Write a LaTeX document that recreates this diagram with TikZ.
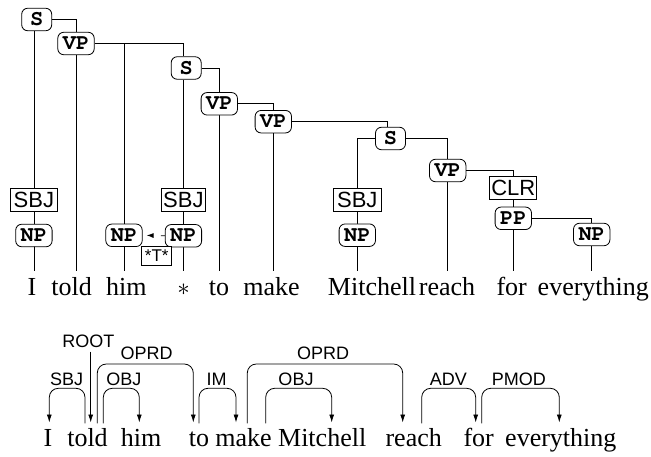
\documentclass[tikz,border=0pt]{standalone}
\usepackage{fontspec}
\setmainfont{Liberation Serif}
\setsansfont{Liberation Sans}
\setmonofont{Liberation Mono}
\usetikzlibrary{arrows.meta}
\pgfdeclarelayer{background}
\pgfsetlayers{background,main}
\newcommand{\catfont}{\fontencoding{T1}\fontfamily{pcr}\fontseries{b}\fontsize{22}{22}\selectfont}
\tikzset{
  cat/.style={draw, line width=0.8pt, rounded corners=6pt, fill=white,
    font=\catfont,
    minimum width=30pt, minimum height=22.5pt, inner xsep=5pt, inner ysep=0pt},
  fn/.style={draw, line width=0.8pt, fill=white,
    font=\sffamily\fontsize{22}{22}\selectfont,
    minimum height=23.5pt, inner xsep=3.8pt, inner ysep=0pt},
  trace/.style={draw, line width=0.8pt, fill=white,
    font=\sffamily\fontsize{17}{17}\selectfont,
    minimum height=18.5pt, minimum width=30pt, inner xsep=1pt, inner ysep=0pt},
  word/.style={font=\fontsize{26}{26}\selectfont, anchor=base, inner sep=0pt},
  dlab/.style={font=\sffamily\fontsize{18}{18}\selectfont, inner sep=0pt},
  tl/.style={line width=0.8pt},
  arc/.style={line width=0.8pt, rounded corners=9pt},
  arcarrow/.style={arc, -{Latex[length=8pt,width=5pt]}},
}
\begin{document}
\begin{tikzpicture}[x=1pt,y=-1pt]
\useasboundingbox (0,0) rectangle (651,457);
% ---------- top tree ----------
\node[cat] (S1) at (36.7,19.5) {S};
\node[cat] (VP1) at (76,43.5) {VP};
\node[cat] (S2) at (186.2,68) {S};
\node[cat] (VP2) at (219.3,103.8) {VP};
\node[cat] (VP3) at (273.3,121.7) {VP};
\node[cat] (S3) at (390.5,138.5) {S};
\node[cat] (VP4) at (447.7,170.5) {VP};
\node[fn, inner xsep=1.5pt] (CLR) at (513.3,188) {CLR};
\node[cat] (PP) at (513.3,218.3) {PP};
\node[cat] (NPe) at (591.7,234.5) {NP};
\node[fn] (SBJ1) at (33.9,199.7) {SBJ};
\node[cat] (NP1) at (33.9,235.5) {NP};
\node[cat] (NPh) at (124,235.3) {NP};
\node[fn, inner xsep=1.5pt] (SBJ2) at (183.4,200) {SBJ};
\node[cat] (NP2) at (183.4,235.8) {NP};
\node[fn] (SBJ3) at (357.3,199.7) {SBJ};
\node[cat] (NP3) at (357.3,235.2) {NP};
\node[trace] (T) at (156.7,256) {*T*};

% leaf words
\node[word] (wI) at (32,295.7) {I};
\node[word] (wtold) at (71.7,295.7) {told};
\node[word] (whim) at (126.3,295.7) {him};
\node[word] (wstar) at (183.5,295.7) {$\ast$};
\node[word] (wto) at (219,295.7) {to};
\node[word] (wmake) at (271.5,295.7) {make};
\node[word] (wMit) at (372,295.7) {Mitchell};
\node[word] (wreach) at (447,295.7) {reach};
\node[word] (wfor) at (511.7,295.7) {for};
\node[word] (wev) at (593.3,295.7) {everything};

\coordinate (lI) at (33.9,270.7);
\coordinate (ltold) at (76,270.7);
\coordinate (lhim) at (124,270.7);
\coordinate (lstar) at (183.4,270.7);
\coordinate (lto) at (219.3,270.7);
\coordinate (lmake) at (273.3,270.7);
\coordinate (lMit) at (357.3,270.7);
\coordinate (lreach) at (447.7,270.7);
\coordinate (lfor) at (513.3,270.7);
\coordinate (lev) at (591.7,270.7);

\begin{pgfonlayer}{background}
\draw[tl] ([xshift=-2.8pt]S1.south) -- (lI);
\draw[tl] (S1.east) -| (VP1.north);
\draw[tl] (VP1.south) -- (ltold);
\draw[tl] (VP1.east) -| ([xshift=-2.8pt]S2.north);
\draw[tl] (VP1.east -| lhim) -- (lhim);
\draw[tl] ([xshift=-2.8pt]S2.south) -- (lstar);
\draw[tl] (S2.east) -| (VP2.north);
\draw[tl] (VP2.south) -- (lto);
\draw[tl] (VP2.east) -| (VP3.north);
\draw[tl] (VP3.south) -- (lmake);
\draw[tl] (VP3.east) -| ([xshift=-2.8pt]S3.north);
\draw[tl] (S3.west) -| (SBJ3.north);
\draw[tl] (SBJ3.south) -- (lMit);
\draw[tl] (S3.east) -| (VP4.north);
\draw[tl] (VP4.south) -- (lreach);
\draw[tl] (VP4.east) -| (CLR.north);
\draw[tl] (CLR.south) -- (lfor);
\draw[tl] (PP.east) -| (NPe.north);
\draw[tl] (NPe.south) -- (lev);
\end{pgfonlayer}
\draw[tl, dash pattern=on 4pt off 9pt, shorten >=4pt, -{Latex[length=7pt,width=5pt]}] (NP2.west) -- (NPh.east);

% ---------- dependency tree ----------
\node[word] (dI) at (48,446.7) {I};
\node[word] (dtold) at (87.5,446.7) {told};
\node[word] (dhim) at (141,446.7) {him};
\node[word] (dto) at (199,446.7) {to};
\node[word] (dmake) at (243.5,446.7) {make};
\node[word] (dMit) at (322.2,446.7) {Mitchell};
\node[word] (dreach) at (413.7,446.7) {reach};
\node[word] (dfor) at (478.7,446.7) {for};
\node[word] (dev) at (560.8,446.7) {everything};

\coordinate (aSBJs) at (85,423.3);   \coordinate (aSBJt) at (49.3,422.5);
\coordinate (aROOTs) at (90.7,351.7); \coordinate (aROOTt) at (90.7,422.5);
\coordinate (aOPRDs) at (97.3,423.3); \coordinate (aOPRDt) at (193.3,422.5);
\coordinate (aOBJs) at (103.3,423.3); \coordinate (aOBJt) at (139.3,422.5);
\coordinate (aIMs) at (199,423.3);    \coordinate (aIMt) at (236,422.5);
\coordinate (bOPRDs) at (247.3,423.3); \coordinate (bOPRDt) at (402.7,422.5);
\coordinate (bOBJs) at (265.7,423.3); \coordinate (bOBJt) at (331.7,422.5);
\coordinate (aADVs) at (421.7,423.3); \coordinate (aADVt) at (475.7,422.5);
\coordinate (aPMODs) at (481.7,423.3); \coordinate (aPMODt) at (559.3,422.5);

\draw[arcarrow] (aSBJs) -- (aSBJs |- 0,388.3) -- (aSBJt |- 0,388.3) -- (aSBJt);
\draw[arcarrow] (aROOTs) -- (aROOTt);
\draw[arcarrow] (aOPRDs) -- (aOPRDs |- 0,364) -- (aOPRDt |- 0,364) -- (aOPRDt);
\draw[arcarrow] (aOBJs) -- (aOBJs |- 0,388.3) -- (aOBJt |- 0,388.3) -- (aOBJt);
\draw[arcarrow] (aIMs) -- (aIMs |- 0,388.3) -- (aIMt |- 0,388.3) -- (aIMt);
\draw[arcarrow] (bOPRDs) -- (bOPRDs |- 0,364) -- (bOPRDt |- 0,364) -- (bOPRDt);
\draw[arcarrow] (bOBJs) -- (bOBJs |- 0,388.3) -- (bOBJt |- 0,388.3) -- (bOBJt);
\draw[arcarrow] (aADVs) -- (aADVs |- 0,388.3) -- (aADVt |- 0,388.3) -- (aADVt);
\draw[arcarrow] (aPMODs) -- (aPMODs |- 0,388.3) -- (aPMODt |- 0,388.3) -- (aPMODt);

\node[dlab] (lSBJ) at (66.7,379.5) {SBJ};
\node[dlab] (lROOT) at (88.3,341.5) {ROOT};
\node[dlab] (lOPRD1) at (146.7,353.7) {OPRD};
\node[dlab] (lOBJ1) at (123.8,379.5) {OBJ};
\node[dlab] (lIM) at (216.7,379.5) {IM};
\node[dlab] (lOPRD2) at (323,353.7) {OPRD};
\node[dlab] (lOBJ2) at (296,379.5) {OBJ};
\node[dlab] (lADV) at (448.3,379.5) {ADV};
\node[dlab] (lPMOD) at (518.8,379.5) {PMOD};
\end{tikzpicture}
\end{document}
